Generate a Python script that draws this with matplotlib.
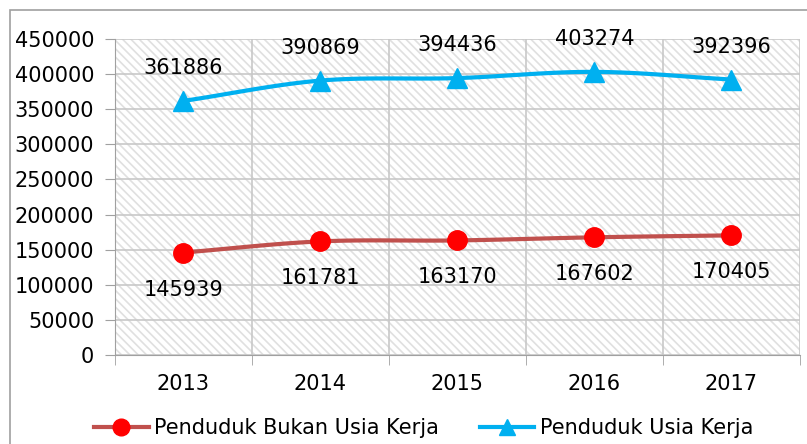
import numpy as np
import matplotlib.pyplot as plt
from matplotlib.patches import Rectangle

plt.rcParams['font.family'] = 'DejaVu Sans'
plt.rcParams['hatch.linewidth'] = 1.2

years = ["2013", "2014", "2015", "2016", "2017"]
bukan_usia_kerja = [145939, 161781, 163170, 167602, 170405]
usia_kerja = [361886, 390869, 394436, 403274, 392396]


def smooth(x, y, n=30):
    # catmull-rom curve through the points, like excel's smoothed line
    x = np.asarray(x, float)
    y = np.asarray(y, float)
    px = np.concatenate([[2 * x[0] - x[1]], x, [2 * x[-1] - x[-2]]])
    py = np.concatenate([[2 * y[0] - y[1]], y, [2 * y[-1] - y[-2]]])
    xs, ys = [], []
    t = np.linspace(0, 1, n)
    for i in range(1, len(px) - 2):
        for p, out in ((px, xs), (py, ys)):
            p0, p1, p2, p3 = p[i - 1], p[i], p[i + 1], p[i + 2]
            out.extend(0.5 * ((2 * p1) + (-p0 + p2) * t
                              + (2 * p0 - 5 * p1 + 4 * p2 - p3) * t ** 2
                              + (-p0 + 3 * p1 - 3 * p2 + p3) * t ** 3))
    return xs, ys


fig = plt.figure(figsize=(8.07, 4.44), dpi=100)
ax = fig.add_axes([0.1425, 0.2005, 0.8485, 0.7115])

fig.patches.append(Rectangle((10 / 807, -0.1), 1.2, 1 - 10 / 444 + 0.1,
                             transform=fig.transFigure, fill=False,
                             edgecolor='#a0a0a0', linewidth=1.2))

ax.add_patch(Rectangle((0, 0), 1, 1, transform=ax.transAxes, facecolor='white',
                       edgecolor='#e0e0e0', hatch='\\\\\\\\', linewidth=0, zorder=0))

x = np.arange(len(years))
red_line = '#C0504D'
blue = '#00B0F0'

sx, sy = smooth(x, bukan_usia_kerja)
ax.plot(sx, sy, color=red_line, lw=3, zorder=3)
ax.plot(x, bukan_usia_kerja, 'o', color='#FF0000', ms=14, zorder=4)
sx, sy = smooth(x, usia_kerja)
ax.plot(sx, sy, color=blue, lw=3, zorder=3)
ax.plot(x, usia_kerja, '^', color=blue, ms=14, zorder=4)

for xi, v in zip(x, bukan_usia_kerja):
    ax.annotate(str(v), (xi, v), xytext=(0, -37), textcoords='offset pixels',
                ha='center', va='center', fontsize=15)
for xi, v in zip(x, usia_kerja):
    ax.annotate(str(v), (xi, v), xytext=(0, 33), textcoords='offset pixels',
                ha='center', va='center', fontsize=15)

ax.set_xlim(-0.5, 4.5)
ax.set_ylim(0, 450000)
ax.set_yticks(np.arange(0, 450001, 50000))
ax.set_yticklabels([str(v) for v in range(0, 450001, 50000)], fontsize=15)
ax.set_xticks(x)
ax.set_xticklabels(years, fontsize=15)
ax.set_xticks(np.arange(-0.5, 4.6, 1), minor=True)
ax.tick_params(axis='x', which='major', length=0, pad=14)
ax.tick_params(axis='x', which='minor', length=7, color='#a0a0a0')
ax.tick_params(axis='y', length=7, color='#a0a0a0', pad=8)
ax.grid(True, axis='y', color='#c8c8c8', lw=1.2)
ax.grid(True, axis='x', which='minor', color='#c8c8c8', lw=1.2)
ax.set_axisbelow(True)
for s in ax.spines.values():
    s.set_color('#a0a0a0')
ax.spines['top'].set_visible(False)
ax.spines['right'].set_visible(False)

h1, = ax.plot([], [], color=red_line, lw=3, marker='o', mfc='#FF0000', mec='#FF0000', ms=12)
h2, = ax.plot([], [], color=blue, lw=3, marker='^', ms=12)
fig.legend([h1, h2], ["Penduduk Bukan Usia Kerja", "Penduduk Usia Kerja"],
           loc='center', bbox_to_anchor=(0.525, 0.035), ncol=2, frameon=False,
           fontsize=15, handlelength=2.6, columnspacing=2.0, handletextpad=0.25)

fig.savefig('out.png', dpi=100)
